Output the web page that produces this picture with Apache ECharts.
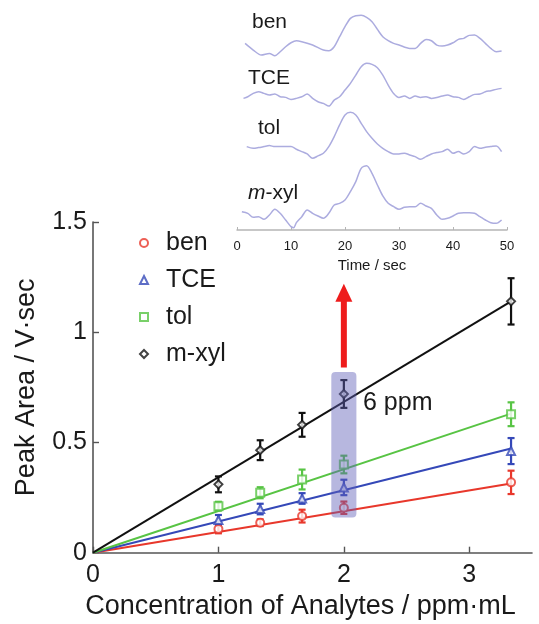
<!DOCTYPE html>
<html>
<head>
<meta charset="utf-8">
<script src="https://cdn.jsdelivr.net/npm/echarts@6/dist/echarts.min.js"></script>
<style>
html, body { margin: 0; padding: 0; background: #fff; }
#chart { width: 539px; height: 624px; }
</style>
</head>
<body>
<div id="chart"></div>
<script>
// concentration (ppm·mL) and peak areas (V·sec)
var conc = [1, 1.333, 1.667, 2, 3.333];
var ben = [0.107, 0.136, 0.166, 0.204, 0.319];
var tce = [0.148, 0.198, 0.246, 0.296, 0.461];
var tol = [0.211, 0.272, 0.332, 0.400, 0.628];
var mxyl = [0.310, 0.465, 0.580, 0.720, 1.140];
var benErr = [0.019, 0.015, 0.029, 0.028, 0.053];
var tceErr = [0.023, 0.024, 0.024, 0.035, 0.059];
var tolErr = [0.020, 0.025, 0.045, 0.040, 0.054];
var mxylErr = [0.036, 0.045, 0.054, 0.063, 0.105];

// fitted lines through origin
var fitX = [0, 3.333];
var benFit = [0, 0.314];
var tceFit = [0, 0.473];
var tolFit = [0, 0.631];
var mxylFit = [0, 1.140];

var xTicks = [0, 1, 2, 3];
var yTicks = [0, 0.5, 1, 1.5];

// highlighted 6 ppm point: [x0, y0, x1, y1], arrow [x, from, to]
var highlight = [1.9, 0.16, 2.1, 0.82];
var arrow = [2, 0.84, 1.22];

// inset chromatograms [time sec, signal]
var benTrace = [[1.5,0.45],[3,0.25],[4.5,0.10],[6,0.15],[7,0.08],[8,0.20],[9,0.35],[10,0.47],[11,0.53],[12,0.50],[14,0.40],[16,0.25],[17,0.23],[18,0.35],[19,0.65],[20,0.95],[21,1.20],[22,1.28],[23,1.29],[24,1.23],[25,1.10],[26,0.87],[27,0.65],[28,0.53],[29,0.45],[30,0.40],[32,0.30],[33,0.30],[34,0.45],[35,0.57],[36,0.53],[37,0.40],[38,0.37],[39,0.40],[40,0.47],[41,0.57],[42,0.60],[43,0.69],[44,0.70],[45,0.60],[46,0.45],[47,0.30],[48,0.20],[49,0.22]];
var tceTrace = [[1.2,0.30],[2,0.35],[3,0.45],[4,0.50],[5,0.45],[6,0.40],[7,0.43],[8,0.35],[9,0.33],[10,0.27],[11,0.30],[12,0.35],[13,0.43],[14,0.30],[15,0.20],[16,0.15],[17,0.07],[18,0.25],[19,0.35],[20,0.55],[21,0.75],[22,1.00],[23,1.25],[24,1.35],[25,1.32],[26,1.22],[27,1.00],[28,0.70],[29,0.45],[30,0.33],[31,0.37],[32,0.30],[33,0.37],[34,0.33],[35,0.35],[36,0.30],[37,0.33],[38,0.37],[39,0.40],[40,0.35],[41,0.33],[42,0.27],[43,0.35],[44,0.42],[45,0.43],[46,0.50],[47,0.53],[48,0.57],[49,0.60]];
var tolTrace = [[1.8,0.45],[3,0.40],[4,0.42],[5,0.45],[6,0.48],[7,0.45],[8,0.45],[9,0.45],[10,0.45],[11,0.37],[12,0.30],[13,0.23],[14,0.10],[15,0.17],[16,0.25],[17,0.45],[18,0.75],[19,1.10],[20,1.40],[21,1.48],[22,1.40],[23,1.15],[24,0.90],[25,0.70],[26,0.53],[27,0.40],[28,0.30],[29,0.23],[30,0.23],[31,0.25],[32,0.20],[33,0.15],[34,0.07],[35,0.15],[36,0.23],[37,0.27],[38,0.30],[39,0.37],[40,0.25],[41,0.30],[42,0.23],[43,0.30],[44,0.45],[45,0.40],[46,0.43],[47,0.45],[48,0.47],[49,0.30]];
var mxylTrace = [[0.9,0.55],[2,0.50],[3,0.38],[4,0.40],[5,0.32],[6,0.45],[7,0.62],[8,0.50],[9,0.30],[10,0.10],[10.5,0.07],[11,0.22],[12,0.40],[13,0.60],[14,0.50],[15,0.42],[16,0.35],[17,0.50],[18,0.75],[19,0.80],[20,0.90],[21,1.15],[22,1.45],[23,1.85],[24,1.93],[25,1.70],[26,1.35],[27,1.02],[28,0.80],[29,0.70],[30,0.62],[31,0.68],[32,0.70],[33,0.70],[34,0.80],[35,0.72],[36,0.65],[37,0.45],[38,0.32],[39,0.35],[40,0.42],[41,0.50],[42,0.52],[43,0.52],[44,0.50],[45,0.40],[46,0.30],[47,0.22],[48,0.20],[49,0.30]];
var timeTicks = [0, 10, 20, 30, 40, 50];

var font = 'Liberation Sans, Arial, Helvetica, sans-serif';
var ink = '#1a1a1a';
var traceColor = '#acacdf';

var analytes = [
  { name: 'ben', y: ben, err: benErr, fit: benFit, color: '#e8372b', symbol: 'emptyCircle' },
  { name: 'TCE', y: tce, err: tceErr, fit: tceFit, color: '#3548b8', symbol: 'emptyTriangle' },
  { name: 'tol', y: tol, err: tolErr, fit: tolFit, color: '#58c444', symbol: 'emptyRect' },
  { name: 'm-xyl', y: mxyl, err: mxylErr, fit: mxylFit, color: '#111111', symbol: 'emptyDiamond' }
];

function errorBar(color) {
  return function (params, api) {
    var x = api.value(0), y = api.value(1), e = api.value(2);
    var top = api.coord([x, y + e]);
    var bot = api.coord([x, y - e]);
    var w = 3.5;
    var st = { stroke: color, lineWidth: 2.2 };
    return {
      type: 'group',
      children: [
        { type: 'line', shape: { x1: top[0], y1: top[1], x2: bot[0], y2: bot[1] }, style: st },
        { type: 'line', shape: { x1: top[0] - w, y1: top[1], x2: top[0] + w, y2: top[1] }, style: st },
        { type: 'line', shape: { x1: bot[0] - w, y1: bot[1], x2: bot[0] + w, y2: bot[1] }, style: st }
      ]
    };
  };
}

var series = [];
analytes.forEach(function (a) {
  series.push({
    name: a.name + ' fit', type: 'line', xAxisIndex: 0, yAxisIndex: 0,
    data: fitX.map(function (x, i) { return [x, a.fit[i]]; }),
    showSymbol: false, lineStyle: { color: a.color, width: 2 }, z: 2, silent: true
  });
  series.push({
    name: a.name + ' err', type: 'custom', xAxisIndex: 0, yAxisIndex: 0,
    renderItem: errorBar(a.color), encode: { x: 0, y: 1 },
    data: conc.map(function (x, i) { return [x, a.y[i], a.err[i]]; }), z: 3
  });
  series.push({
    name: a.name, type: 'scatter', xAxisIndex: 0, yAxisIndex: 0,
    symbol: a.symbol, symbolSize: 8, symbolKeepAspect: true,
    itemStyle: { color: a.color, borderColor: a.color, borderWidth: 2.2 },
    data: conc.map(function (x, i) { return [x, a.y[i]]; }), z: 4
  });
});

// translucent box over the 6 ppm point
series.push({
  type: 'custom', xAxisIndex: 0, yAxisIndex: 0, z: 5, silent: true,
  data: [highlight],
  renderItem: function (params, api) {
    var p0 = api.coord([api.value(0), api.value(3)]);
    var p1 = api.coord([api.value(2), api.value(1)]);
    return {
      type: 'rect',
      shape: { x: p0[0], y: p0[1], width: p1[0] - p0[0], height: p1[1] - p0[1], r: 4 },
      style: { fill: 'rgba(95,95,185,0.45)' }
    };
  }
});

// red arrow up to the inset
series.push({
  type: 'custom', xAxisIndex: 0, yAxisIndex: 0, z: 6, silent: true,
  data: [arrow],
  renderItem: function (params, api) {
    var from = api.coord([api.value(0), api.value(1)]);
    var tip = api.coord([api.value(0), api.value(2)]);
    var headLen = 18, headW = 8.5;
    return {
      type: 'group',
      children: [
        { type: 'line', shape: { x1: from[0], y1: from[1], x2: tip[0], y2: tip[1] + headLen - 1 },
          style: { stroke: '#ee1c1c', lineWidth: 6 } },
        { type: 'polygon', shape: { points: [[tip[0] - headW, tip[1] + headLen], [tip[0] + headW, tip[1] + headLen], [tip[0], tip[1]]] },
          style: { fill: '#ee1c1c' } }
      ]
    };
  }
});

// inset traces, one grid each
var traces = [benTrace, tceTrace, tolTrace, mxylTrace];
traces.forEach(function (t, i) {
  series.push({
    type: 'line', xAxisIndex: i + 1, yAxisIndex: i + 1, data: t,
    showSymbol: false, smooth: 0.3, silent: true,
    lineStyle: { color: traceColor, width: 1.5 }
  });
});

var insetGrids = [
  { left: 237, right: 32, top: 11.7, height: 46.7 },
  { left: 237, right: 32, top: 61.7, height: 46.7 },
  { left: 237, right: 32, top: 108.3, height: 53.3 },
  { left: 237, right: 32, top: 163.3, height: 66.7 }
];
var insetMax = [1.4, 1.4, 1.6, 2.0];

var grids = [{ left: 93, right: 7, top: 222, height: 330.7, outerBoundsMode: 'none' }];
var xAxes = [{
  gridIndex: 0, type: 'value', min: 0, max: 3.5,
  name: 'Concentration of Analytes / ppm\u00b7mL', nameLocation: 'middle', nameGap: 40,
  nameTextStyle: { fontFamily: font, fontSize: 27, color: ink, padding: [0, 24, 0, 0] },
  axisLine: { lineStyle: { color: '#555', width: 1.6 } },
  axisTick: { inside: true, length: 6, customValues: xTicks, lineStyle: { color: '#555', width: 1.4 } },
  axisLabel: { customValues: xTicks, fontFamily: font, fontSize: 25, color: ink, margin: 10 },
  splitLine: { show: false }
}];
var yAxes = [{
  gridIndex: 0, type: 'value', min: 0, max: 1.5,
  name: 'Peak Area / V\u00b7sec', nameLocation: 'middle', nameGap: 53,
  nameTextStyle: { fontFamily: font, fontSize: 27, color: ink },
  axisLine: { lineStyle: { color: '#555', width: 1.6 } },
  axisTick: { inside: true, length: 6, customValues: yTicks, lineStyle: { color: '#555', width: 1.4 } },
  axisLabel: { customValues: yTicks, fontFamily: font, fontSize: 25, color: ink, margin: 6 },
  splitLine: { show: false }
}];

insetGrids.forEach(function (g, i) {
  var last = i === insetGrids.length - 1;
  g.outerBoundsMode = 'none';
  grids.push(g);
  xAxes.push({
    gridIndex: i + 1, type: 'value', min: 0, max: 50, show: last, offset: 3,
    name: last ? 'Time / sec' : '', nameLocation: 'middle', nameGap: 25,
    nameTextStyle: { fontFamily: font, fontSize: 15, color: ink },
    axisLine: { lineStyle: { color: '#b5b5b5', width: 1.5 } },
    axisTick: { inside: true, length: 3, customValues: timeTicks, lineStyle: { color: '#b5b5b5' } },
    axisLabel: { customValues: timeTicks, fontFamily: font, fontSize: 13, color: ink, margin: 7 },
    splitLine: { show: false }
  });
  yAxes.push({ gridIndex: i + 1, type: 'value', min: 0, max: insetMax[i], show: false, splitLine: { show: false } });
});

var insetLabel = function (text, left, top) {
  return {
    type: 'text', left: left, top: top,
    style: {
      text: text, fontFamily: font, fontSize: 21, fill: ink,
      rich: { i: { fontFamily: font, fontSize: 21, fontStyle: 'italic', fill: ink } }
    }
  };
};

var option = {
  animation: false,
  backgroundColor: '#fff',
  textStyle: { fontFamily: font },
  grid: grids,
  xAxis: xAxes,
  yAxis: yAxes,
  legend: {
    data: ['ben', 'TCE', 'tol', 'm-xyl'],
    orient: 'vertical', left: 139, top: 230,
    itemWidth: 8, itemHeight: 8, itemGap: 11,
    padding: 0,
    textStyle: { fontFamily: font, fontSize: 25, color: ink, padding: [0, 0, 0, 13], lineHeight: 26 }
  },
  graphic: [
    insetLabel('ben', 252, 12),
    insetLabel('TCE', 248, 68),
    insetLabel('tol', 258, 118),
    insetLabel('{i|m}-xyl', 248, 183),
    { type: 'text', left: 363, top: 391,
      style: { text: '6 ppm', fontFamily: font, fontSize: 25, fill: ink } }
  ],
  series: series
};

var chart = echarts.init(document.getElementById('chart'));
chart.setOption(option);
</script>
</body>
</html>
